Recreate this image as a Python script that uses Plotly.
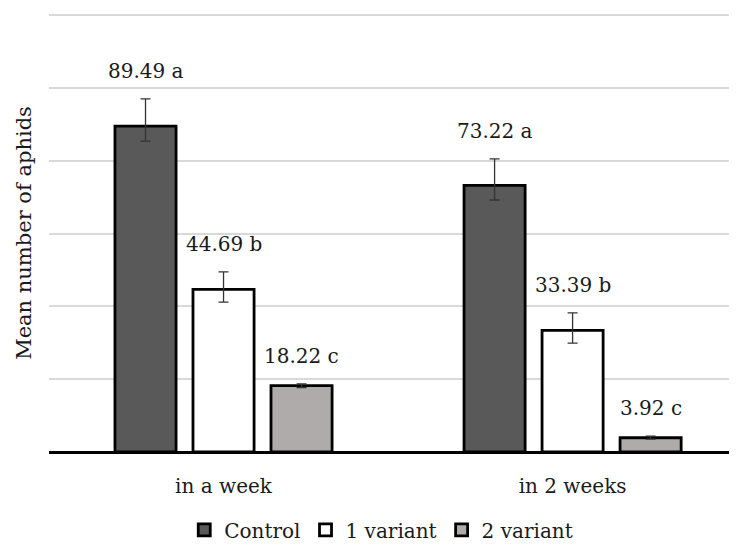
import plotly.graph_objects as go

categories = ["in a week", "in 2 weeks"]
series_names = ["Control", "1 variant", "2 variant"]
control = [89.49, 73.22]
variant1 = [44.69, 33.39]
variant2 = [18.22, 3.92]
err_plus_control = [7.5, 7.3]
err_minus_control = [4.1, 4.0]
err_plus_v1 = [4.8, 4.8]
err_minus_v1 = [3.5, 3.5]
err_plus_v2 = [0.5, 0.4]
err_minus_v2 = [0.5, 0.4]
letters_control = ["a", "a"]
letters_v1 = ["b", "b"]
letters_v2 = ["c", "c"]

colors = ["#595959", "#ffffff", "#afabab"]
FONT = "DejaVu Serif, serif"
FS = 20
TXT = "#1a1a1a"

slot = 0.2235
bar_w = 0.175
offsets = [-slot, 0.0, slot]

data = [
    (control, err_plus_control, err_minus_control, letters_control),
    (variant1, err_plus_v1, err_minus_v1, letters_v1),
    (variant2, err_plus_v2, err_minus_v2, letters_v2),
]

fig = go.Figure()
annotations = []
xs_base = list(range(len(categories)))
for j, (vals, ep, em, lets) in enumerate(data):
    xs = [i + offsets[j] for i in xs_base]
    fig.add_trace(go.Bar(
        x=xs, y=vals, width=bar_w, name=series_names[j],
        marker=dict(color=colors[j], line=dict(color="#000000", width=2.8)),
        error_y=dict(type="data", symmetric=False, array=ep, arrayminus=em,
                     color="#333333", thickness=1.3, width=5),
    ))
    for x, v, p, l in zip(xs, vals, ep, lets):
        annotations.append(dict(
            x=x, y=v + p, xref="x", yref="y", text=f"{v:.2f} {l}",
            showarrow=False, yanchor="middle", yshift=28,
            font=dict(family=FONT, size=FS, color=TXT),
        ))

fig.update_layout(
    width=729, height=537,
    margin=dict(l=41, r=0, t=6, b=93, autoexpand=False),
    paper_bgcolor="white", plot_bgcolor="white",
    font=dict(family=FONT, size=FS, color=TXT),
    barmode="overlay",
    showlegend=True,
    legend=dict(orientation="h", xref="container", x=0.512, xanchor="center",
                yref="paper", y=-0.178, yanchor="middle",
                font=dict(family=FONT, size=FS, color=TXT),
                itemclick=False),
    annotations=annotations,
    xaxis=dict(
        range=[-0.5, 1.471], tickmode="array", tickvals=xs_base, ticktext=categories,
        showgrid=False, zeroline=False, showline=False, automargin=False,
        ticks="outside", ticklen=16, tickcolor="rgba(0,0,0,0)",
        tickfont=dict(family=FONT, size=FS, color=TXT),
    ),
    yaxis=dict(
        range=[0, 120.3], dtick=20, showticklabels=False, automargin=False,
        showgrid=True, gridcolor="#d9d9d9", gridwidth=1.5,
        zeroline=True, zerolinecolor="#000000", zerolinewidth=2.5,
        title=dict(text="Mean number of aphids", standoff=10,
                   font=dict(family=FONT, size=21, color=TXT)),
    ),
)

fig.write_html("out.html")
